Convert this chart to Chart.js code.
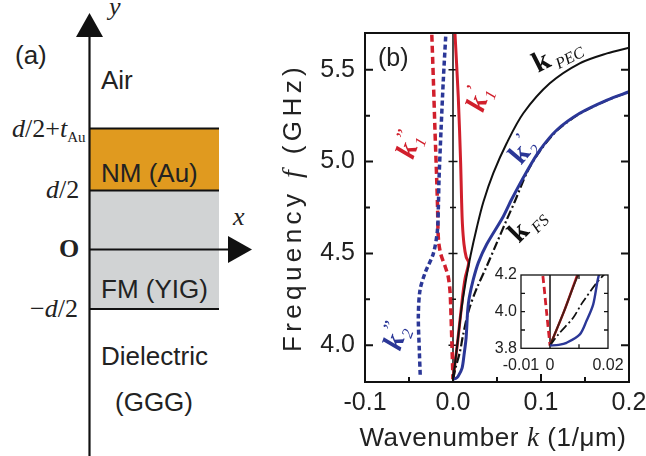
<!DOCTYPE html>
<html>
<head>
<meta charset="utf-8">
<script src="https://cdn.jsdelivr.net/npm/chart.js@4.4.1/dist/chart.umd.min.js"></script>
<style>
  body { margin: 0; background: #fff; width: 646px; height: 456px; position: relative; overflow: hidden; }
  #schema, #main, #inset { position: absolute; }
  #main { left: 280px; top: 0; }
  #inset { left: 486px; top: 265px; }
  .sans { font-family: "Liberation Sans", Arial, sans-serif; font-size: 26px; fill: #222; }
  .ser { font-family: "Liberation Serif", "Times New Roman", serif; font-size: 26px; fill: #222; }
</style>
</head>
<body>

<!-- panel (a): layer sketch -->
<svg id="schema" width="280" height="456">
  <rect x="89" y="128" width="130" height="63" fill="#E09A1F"/>
  <rect x="89" y="191" width="130" height="118" fill="#D1D3D4"/>
  <g stroke="#111" stroke-width="2.2">
    <line x1="89" y1="128.5" x2="219" y2="128.5"/>
    <line x1="89" y1="190.5" x2="219" y2="190.5"/>
    <line x1="89" y1="309" x2="219" y2="309"/>
    <line x1="89.5" y1="34" x2="89.5" y2="456"/>
    <line x1="89" y1="249.5" x2="232" y2="249.5"/>
  </g>
  <polygon points="76,37 89.5,13 103,37" fill="#111"/>
  <polygon points="228,236 252,249.5 228,263" fill="#111"/>
  <text class="ser" x="109" y="15" font-style="italic">y</text>
  <text class="ser" x="233" y="225" font-style="italic">x</text>
  <text class="sans" x="15" y="64">(a)</text>
  <text class="sans" x="101" y="89">Air</text>
  <text class="ser" x="12" y="137"><tspan font-style="italic">d</tspan>/2+<tspan font-style="italic">t</tspan><tspan font-size="15" dy="5">Au</tspan></text>
  <text class="ser" x="46" y="198"><tspan font-style="italic">d</tspan>/2</text>
  <text class="ser" x="59" y="257" font-weight="bold">O</text>
  <text class="ser" x="30" y="317">&#8722;<tspan font-style="italic">d</tspan>/2</text>
  <text class="sans" x="101" y="182">NM (Au)</text>
  <text class="sans" x="101" y="298">FM (YIG)</text>
  <text class="sans" x="101" y="365">Dielectric</text>
  <text class="sans" x="115" y="411">(GGG)</text>
</svg>

<canvas id="main" width="366" height="456" style="width:366px;height:456px"></canvas>
<canvas id="inset" width="148" height="108" style="width:148px;height:108px"></canvas>

<script>
// dispersion curves, wavenumber k (1/um) vs frequency f (GHz)
var pecK = [0, 0.0048, 0.0094, 0.0145, 0.0200, 0.0270, 0.0345, 0.0458, 0.0610, 0.0799, 0.1100, 0.1440, 0.1750, 0.2000];
var pecF = [3.815, 4.000, 4.190, 4.350, 4.490, 4.640, 4.780, 4.937, 5.100, 5.263, 5.426, 5.535, 5.589, 5.620];

var fsK = [0, 0.0029, 0.0080, 0.0112, 0.0179, 0.0270, 0.0383, 0.0500, 0.0610, 0.0700, 0.0845, 0.0997, 0.1188, 0.1448, 0.1758, 0.2008];
var fsF = [3.815, 3.876, 3.967, 4.050, 4.190, 4.310, 4.430, 4.560, 4.683, 4.780, 4.945, 5.064, 5.172, 5.263, 5.335, 5.380];

var k2reK = [0, 0.0030, 0.0057, 0.0103, 0.0126, 0.0149, 0.0167, 0.0185, 0.0230, 0.0288, 0.0383, 0.0570, 0.0667, 0.0837, 0.0989, 0.1180, 0.1440, 0.1750, 0.2000];
var k2reF = [3.815, 3.819, 3.830, 3.876, 3.950, 4.040, 4.190, 4.260, 4.357, 4.450, 4.550, 4.700, 4.795, 4.945, 5.064, 5.172, 5.263, 5.335, 5.380];

var k1reK = [0.0020, 0.0060, 0.0087, 0.0097, 0.0107, 0.0125, 0.0150, 0.0178, 0.0140, 0.0115, 0.0094, 0.0048, 0];
var k1reF = [5.72, 5.35, 4.99, 4.80, 4.66, 4.55, 4.48, 4.45, 4.37, 4.29, 4.20, 4.00, 3.815];

var k1imK = [-0.0245, -0.0223, -0.0205, -0.0185, -0.0175, -0.0170, -0.0160, -0.0135, -0.0090, -0.0055, -0.0035, -0.0025, -0.0012, 0];
var k1imF = [5.75, 5.444, 5.172, 4.900, 4.740, 4.620, 4.550, 4.490, 4.430, 4.375, 4.300, 4.200, 4.000, 3.815];

var k2imK = [-0.0083, -0.0110, -0.0136, -0.0159, -0.0167, -0.0178, -0.0223, -0.0318, -0.0375, -0.0394, -0.0383, -0.0372];
var k2imF = [5.680, 5.444, 5.172, 4.900, 4.740, 4.620, 4.500, 4.393, 4.300, 4.158, 3.977, 3.830];

// ticks
var kTicks = [-0.1, 0, 0.1, 0.2];
var kMinor = [-0.05, 0.05, 0.15];
var fTicks = [4.0, 4.5, 5.0, 5.5];
var fMinor = [4.25, 4.75, 5.25];
var zeroTicks = [4.0, 4.25, 4.5, 4.75, 5.0, 5.25, 5.5];
var insetK = [-0.01, 0, 0.02];
var insetKMinor = [0.01];
var insetF = [3.8, 4.0, 4.2];
var insetFMinor = [3.9, 4.1];

var RED = '#D11F2C', BLUE = '#2B3797', BLACK = '#111';
var SANS = '"Liberation Sans", Arial, sans-serif';
var SERIF = '"Liberation Serif", "Times New Roman", serif';
Chart.defaults.font.family = SANS;
Chart.defaults.color = '#222';

function pts(ks, fs) {
    return ks.map(function (k, i) { return { x: k, y: fs[i] }; });
}

function curves(inset) {
    var w = inset ? 0.8 : 1;
    return [
        { data: pts(k2reK, k2reF), borderColor: BLUE, borderWidth: 3 * w },
        { data: pts(fsK, fsF), borderColor: BLACK, borderWidth: 2.2 * w, borderDash: [9, 3, 2, 3] },
        { data: pts(pecK, pecF), borderColor: inset ? '#4a1c14' : BLACK, borderWidth: 2 },
        { data: pts(k1reK, k1reF), borderColor: RED, borderWidth: 3 * w },
        { data: pts(k2imK, k2imF), borderColor: BLUE, borderWidth: 3.5 * w, borderDash: [5, 3] },
        { data: pts(k1imK, k1imF), borderColor: RED, borderWidth: 3.5 * w, borderDash: [7, 4] }
    ].map(function (d) {
        d.showLine = true; d.pointRadius = 0; d.tension = 0.3; d.fill = false;
        return d;
    });
}

// frame, inside ticks and the vertical k = 0 line
var frame = {
    id: 'frame',
    beforeDatasetsDraw: function (chart, args, o) {
        var ctx = chart.ctx, a = chart.chartArea, x = chart.scales.x, y = chart.scales.y;
        ctx.save();
        if (o.bg) { ctx.fillStyle = '#fff'; ctx.fillRect(a.left, a.top, a.width, a.height); }
        var zx = x.getPixelForValue(0);
        ctx.strokeStyle = BLACK; ctx.lineWidth = 1.5;
        ctx.beginPath();
        ctx.moveTo(zx, a.top); ctx.lineTo(zx, a.bottom);
        (o.zero || []).forEach(function (v, i) {
            var py = y.getPixelForValue(v), l = (i % 2 == 0) ? 4.5 : 3;
            ctx.moveTo(zx - l, py); ctx.lineTo(zx + l, py);
        });
        ctx.stroke();
        ctx.restore();
    },
    afterDatasetsDraw: function (chart, args, o) {
        var ctx = chart.ctx, a = chart.chartArea, x = chart.scales.x, y = chart.scales.y;
        ctx.save();
        ctx.strokeStyle = BLACK; ctx.lineWidth = o.lw;
        ctx.beginPath();
        function tx(vals, len) {
            vals.forEach(function (v) {
                var px = x.getPixelForValue(v);
                ctx.moveTo(px, a.bottom); ctx.lineTo(px, a.bottom - len);
                if (o.top) { ctx.moveTo(px, a.top); ctx.lineTo(px, a.top + len); }
            });
        }
        function ty(vals, len) {
            vals.forEach(function (v) {
                var py = y.getPixelForValue(v);
                ctx.moveTo(a.left, py); ctx.lineTo(a.left + len, py);
                ctx.moveTo(a.right, py); ctx.lineTo(a.right - len, py);
            });
        }
        tx(o.xMajor, o.major); tx(o.xMinor, o.minor);
        ty(o.yMajor, o.major); ty(o.yMinor, o.minor);
        ctx.stroke();
        ctx.strokeRect(a.left, a.top, a.width, a.height);
        ctx.restore();
    }
};

// rotated curve names and axis titles
var tags = [
    { k: 0.0966, f: 5.482, rot: -27, color: BLACK, it: false, sub: 'PEC', sup: '' },
    { k: 0.0341, f: 5.265, rot: -70, color: RED, it: true, sub: '1', sup: '\u2019' },
    { k: -0.0455, f: 5.009, rot: -70, color: RED, it: true, sub: '1', sup: '\u201D' },
    { k: 0.0773, f: 4.977, rot: -50, color: BLUE, it: false, sub: '2', sup: '\u2019' },
    { k: 0.0750, f: 4.553, rot: -45, color: BLACK, it: false, sub: 'FS', sup: '' },
    { k: -0.0602, f: 3.966, rot: -70, color: BLUE, it: true, sub: '2', sup: '\u201D' }
];

function rich(ctx, parts, x, y, rot) {
    var total = 0;
    parts.forEach(function (p) { ctx.font = p.font; total += ctx.measureText(p.t).width; });
    ctx.save();
    ctx.translate(x, y);
    ctx.rotate(rot);
    var cx = -total / 2;
    parts.forEach(function (p) {
        ctx.font = p.font;
        ctx.fillText(p.t, cx, 0);
        cx += ctx.measureText(p.t).width;
    });
    ctx.restore();
}

var annot = {
    id: 'annot',
    afterDraw: function (chart) {
        var ctx = chart.ctx, a = chart.chartArea, x = chart.scales.x, y = chart.scales.y;
        ctx.save();
        tags.forEach(function (t) {
            ctx.save();
            ctx.translate(x.getPixelForValue(t.k), y.getPixelForValue(t.f));
            ctx.rotate(t.rot * Math.PI / 180);
            ctx.fillStyle = t.color;
            ctx.font = (t.it ? 'italic ' : '') + 'bold 29px ' + SERIF;
            ctx.fillText('k', 0, 0);
            var w = ctx.measureText('k').width + 1;
            ctx.font = 'italic 16px ' + SERIF;
            ctx.fillText(t.sub, w + (t.sub.length > 1 ? 3 : 0), 6);
            if (t.sup) { ctx.font = '20px ' + SERIF; ctx.fillText(t.sup, w + 1, -11); }
            ctx.restore();
        });
        ctx.fillStyle = '#222';
        ctx.font = '25px ' + SANS;
        ctx.fillText('(b)', a.left + 13, a.top + 33);
        ctx.letterSpacing = '0.6px';
        rich(ctx, [
            { t: 'Wavenumber ', font: '26px ' + SANS },
            { t: 'k', font: 'italic 27px ' + SERIF },
            { t: ' (1/\u03BCm)', font: '26px ' + SANS }
        ], (a.left + a.right) / 2 - 4, 446, 0);
        ctx.letterSpacing = '4.4px';
        rich(ctx, [
            { t: 'Frequency ', font: '26px ' + SANS },
            { t: 'f', font: 'italic 28px ' + SERIF },
            { t: ' (GHz)', font: '26px ' + SANS }
        ], 21, (a.top + a.bottom) / 2, -Math.PI / 2);
        ctx.restore();
    }
};

function setTicks(vals) {
    return function (s) { s.ticks = vals.map(function (v) { return { value: v }; }); };
}

function fitX(h) {
    return function (s) { s.height = h; s.paddingLeft = 0; s.paddingRight = 0; };
}
function fitY(w) {
    return function (s) { s.width = w; s.paddingTop = 0; s.paddingBottom = 0; };
}

new Chart(document.getElementById('main'), {
    type: 'scatter',
    data: { datasets: curves(false) },
    options: {
        responsive: false,
        animation: false,
        layout: { padding: { left: 0, right: 17, top: 33, bottom: 0 } },
        plugins: {
            legend: { display: false },
            tooltip: { enabled: false },
            frame: { lw: 2, major: 8, minor: 5, top: false, xMajor: kTicks, xMinor: kMinor, yMajor: fTicks, yMinor: fMinor, zero: zeroTicks }
        },
        scales: {
            x: {
                type: 'linear', min: -0.1, max: 0.2,
                afterBuildTicks: setTicks(kTicks),
                afterFit: fitX(74),
                grid: { display: false, drawTicks: false },
                border: { display: false },
                ticks: { padding: 6, font: { size: 25 }, color: '#222', callback: function (v) { return v.toFixed(1); } }
            },
            y: {
                type: 'linear', min: 3.8, max: 5.7,
                afterBuildTicks: setTicks(fTicks),
                afterFit: fitY(85),
                grid: { display: false, drawTicks: false },
                border: { display: false },
                ticks: { padding: 10, font: { size: 25 }, color: '#222', callback: function (v) { return v.toFixed(1); } }
            }
        }
    },
    plugins: [frame, annot]
});

new Chart(document.getElementById('inset'), {
    type: 'scatter',
    data: { datasets: curves(true) },
    options: {
        responsive: false,
        animation: false,
        layout: { padding: { left: 0, right: 26, top: 10, bottom: 0 } },
        plugins: {
            legend: { display: false },
            tooltip: { enabled: false },
            frame: { lw: 1.3, major: 4, minor: 4, top: true, bg: true, xMajor: [], xMinor: insetKMinor, yMajor: [4.0], yMinor: insetFMinor, zero: [] }
        },
        scales: {
            x: {
                type: 'linear', min: -0.01, max: 0.02,
                afterBuildTicks: setTicks(insetK),
                afterFit: fitX(24.7),
                grid: { display: false, drawTicks: false },
                border: { display: false },
                ticks: { padding: 8, font: { size: 16 }, color: '#222', callback: function (v) { return v === 0 ? '0' : String(v); } }
            },
            y: {
                type: 'linear', min: 3.8, max: 4.2,
                afterBuildTicks: setTicks(insetF),
                afterFit: fitY(35),
                grid: { display: false, drawTicks: false },
                border: { display: false },
                ticks: { padding: 4, font: { size: 16 }, color: '#222', callback: function (v) { return v.toFixed(1); } }
            }
        }
    },
    plugins: [frame]
});
</script>
</body>
</html>
